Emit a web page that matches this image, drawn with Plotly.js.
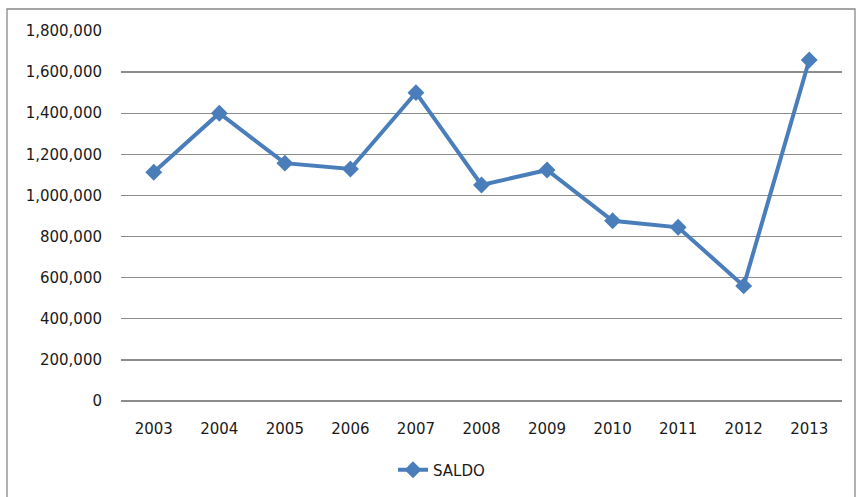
<!DOCTYPE html>
<html>
<head>
<meta charset="utf-8">
<script src="https://cdn.plot.ly/plotly-3.0.1.min.js"></script>
<style>html,body{margin:0;padding:0;background:#fff;}#chart{width:857px;height:497px;}</style>
</head>
<body>
<div id="chart"></div>
<script>
var years = ['2003','2004','2005','2006','2007','2008','2009','2010','2011','2012','2013'];
var saldo = [1113000, 1400000, 1157000, 1129000, 1500000, 1051000, 1124000, 877000, 845000, 560000, 1659000];
var yTicks = [0, 200000, 400000, 600000, 800000, 1000000, 1200000, 1400000, 1600000, 1800000];
var yTickText = yTicks.map(function(v){return v.toLocaleString('en-US');});

var trace = {
  x: years, y: saldo, name: 'SALDO', type: 'scatter', mode: 'lines+markers',
  line: {color: '#4A7EBB', width: 4},
  marker: {symbol: 'diamond', size: 13, color: '#4A7EBB'}
};
var L = 121, R = 842, T = 31, B = 401;
function px(x){return (x - L)/(R - L);}
function py(y){return (B - y)/(B - T);}
var layout = {
  width: 857, height: 497,
  margin: {l: L, r: 857 - R, t: T, b: 497 - B},
  paper_bgcolor: '#fff', plot_bgcolor: '#fff',
  font: {family: '"DejaVu Sans", sans-serif', size: 15, color: '#1a1a1a'},
  showlegend: true,
  legend: {orientation: 'h', xref: 'container', yref: 'container', x: 393/857, y: (497-470)/497, xanchor: 'left', yanchor: 'middle', font: {size: 15}},
  xaxis: {type: 'category', range: [-0.5, 10.5], showgrid: false, showline: false, zeroline: false, ticks: '', ticklabelstandoff: 17, fixedrange: true},
  yaxis: {range: [0, 1800000], tickvals: yTicks, ticktext: yTickText, showgrid: true, gridcolor: '#8c8c8c', gridwidth: 1.3, zeroline: true, zerolinecolor: '#8c8c8c', zerolinewidth: 1.3, showline: false, ticks: '', ticklabelstandoff: 18},
  shapes: [{type: 'rect', xref: 'paper', yref: 'paper', x0: px(7), x1: px(855), y0: py(515), y1: py(9), line: {color: '#888', width: 1.3}, fillcolor: 'rgba(0,0,0,0)', layer: 'below'}]
};
Plotly.newPlot('chart', [trace], layout, {displayModeBar: false, staticPlot: true});
</script>
</body>
</html>
